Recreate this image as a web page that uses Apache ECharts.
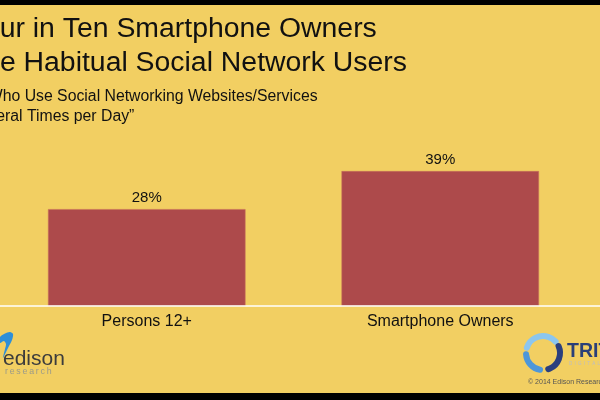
<!DOCTYPE html>
<html>
<head>
<meta charset="utf-8">
<script src="https://cdn.jsdelivr.net/npm/echarts@6/dist/echarts.min.js"></script>
<style>
html,body{margin:0;padding:0;background:#F2CF62;overflow:hidden;}
#c{width:600px;height:400px;}
</style>
</head>
<body>
<div id="c"></div>
<script>
// ---- data ----
const categories = ['Persons 12+', 'Smartphone Owners'];
const values = [28, 39];
const titleLines = ['Four in Ten Smartphone Owners', 'Are Habitual Social Network Users'];
const subtitleLines = ['\u201CWho Use Social Networking Websites/Services', 'Several Times per Day\u201D'];
const footerText = '\u00A9 2014 Edison Research and Triton Digital';

// ---- helpers ----
const FONT = '"Liberation Sans", Arial, Helvetica, sans-serif';
const NARROW = '"Liberation Sans Narrow", "Arial Narrow", "Liberation Sans", sans-serif';

const chart = echarts.init(document.getElementById('c'), null, { renderer: 'canvas' });

function txt(text, x, y, size, color, extra, family) {
  return {
    type: 'text', x: x, y: y, silent: true,
    style: Object.assign({ text: text, fontSize: size, fontFamily: family || FONT, fill: color, align: 'left', verticalAlign: 'middle' }, extra || {})
  };
}
function arcPiece(a0, a1, color) {
  return { type: 'arc', silent: true,
    shape: { cx: 543, cy: 353, r: 17, startAngle: a0 * Math.PI / 180, endAngle: a1 * Math.PI / 180 },
    style: { stroke: color, lineWidth: 6, fill: null, lineCap: 'round' } };
}

const TS = 28.4, SUB = 15.8;
const TH = '\u2009';
const graphics = [
  { type: 'rect', shape: { x: 0, y: 0, width: 600, height: 5 }, style: { fill: '#000' }, silent: true },
  { type: 'rect', shape: { x: 0, y: 393, width: 600, height: 7 }, style: { fill: '#000' }, silent: true },
  { type: 'line', shape: { x1: 0, y1: 306, x2: 600, y2: 306 }, style: { stroke: '#FFFFFF', lineWidth: 1.5 }, silent: true, z: 10 },
  txt(titleLines[0], -33.5, 29, TS, '#111'),
  txt(titleLines[1], -28.5, 63, TS, '#111'),
  txt(subtitleLines[0], -17.5, 97, SUB, '#111'),
  txt(subtitleLines[1], -31, 116.5, SUB, '#111'),
  // edison logo swoosh
  { type: 'polygon', silent: true, shape: { points: [[0,337],[5,333.5],[10,332],[13,334],[12,340],[8,348],[3,358],[5,349],[6,344],[4,341],[0,343]], smooth: 0.3 }, style: { fill: '#2E8FD8' } },
  txt('edison', 3, 359, 21, '#3c3c3c'),
  txt(['r','e','s','e','a','r','c','h'].join(TH), 5, 372, 8.8, '#9a9a8a'),
  // triton logo
  arcPiece(198, 318, '#8CC6EE'),
  arcPiece(336, 432, '#2B3F7E'),
  arcPiece(100, 176, '#4E97D8'),
  txt('TRITON', 567, 352, 19.5, '#2A3F78', { fontWeight: 'bold' }, NARROW),
  txt(['D','I','G','I','T','A','L'].join('\u2002'), 569, 364, 4.5, '#B8BCCB'),
  txt(footerText, 528, 382.5, 7, '#555555')
];

const option = {
  backgroundColor: '#F2CF62',
  animation: false,
  grid: { left: -5, right: 13, top: 133, bottom: 94, containLabel: false },
  xAxis: {
    type: 'category',
    data: categories,
    axisLine: { show: false },
    axisTick: { show: false },
    axisLabel: { color: '#111', fontSize: 16, fontFamily: FONT, margin: 8 }
  },
  yAxis: { type: 'value', min: 0, max: 50, show: false, splitLine: { show: false } },
  series: [{
    type: 'bar',
    data: values,
    barWidth: '67.3%',
    itemStyle: { color: '#AD4A4B', borderColor: '#C8705A', borderWidth: 0.6 },
    label: { show: true, position: 'top', distance: 4, formatter: '{c}%', color: '#111', fontSize: 15, fontFamily: FONT }
  }],
  graphic: graphics
};
chart.setOption(option);
</script>
</body>
</html>
